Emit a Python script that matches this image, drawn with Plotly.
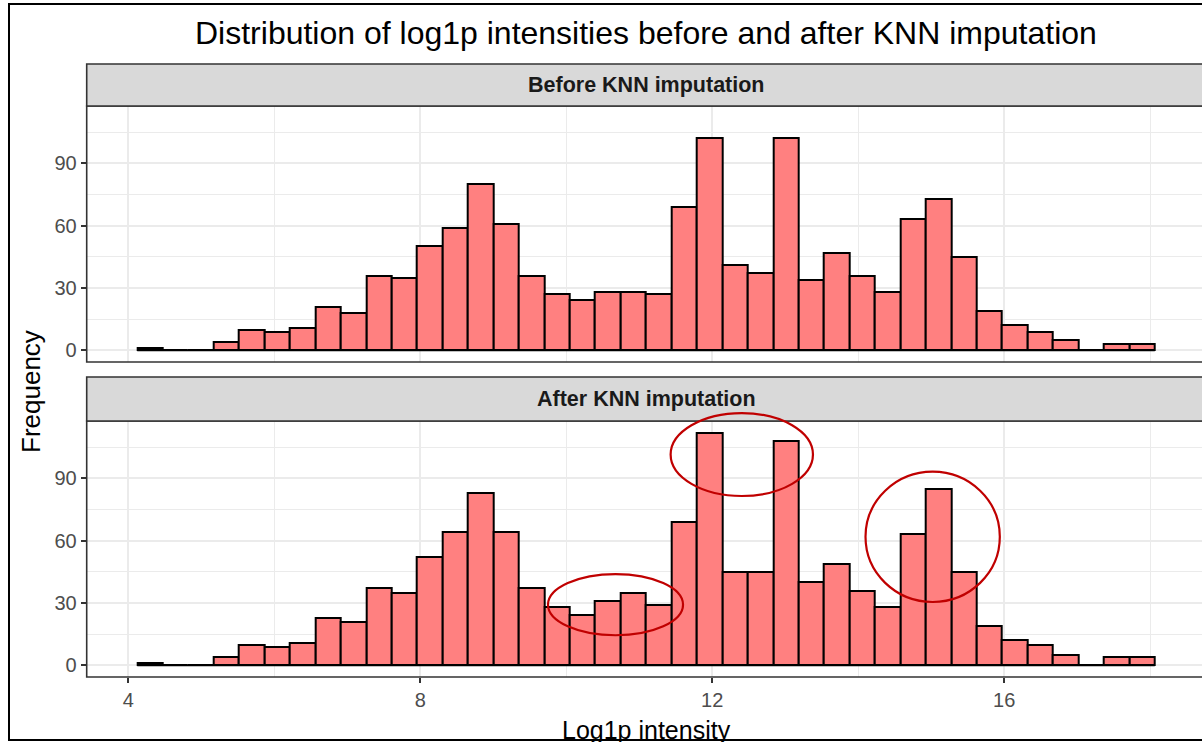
import plotly.graph_objects as go

# ---- data: histogram counts of log1p intensities (40 equal-width bins) ----
intensity_min = 4.123          # left edge of the first bin
bin_width = 0.3485             # width of each bin

counts_before = [1, 0, 0, 4, 10, 9, 11, 21, 18, 36,
                 35, 50, 59, 80, 61, 36, 27, 24, 28, 28,
                 27, 69, 102, 41, 37, 102, 34, 47, 36, 28,
                 63, 73, 45, 19, 12, 9, 5, 0, 3, 3]

counts_after = [1, 0, 0, 4, 10, 9, 11, 23, 21, 37,
                35, 52, 64, 83, 64, 37, 28, 24, 31, 35,
                29, 69, 112, 45, 45, 108, 40, 49, 36, 28,
                63, 85, 45, 19, 12, 10, 5, 0, 4, 4]

panel_labels = ["Before KNN imputation", "After KNN imputation"]
x_tick_values = [4, 8, 12, 16]
y_tick_values = [0, 30, 60, 90]

# highlighted regions in the imputed panel: (x0, x1, y0, y1) in data units
highlights = [
    (9.75, 11.60, 14.5, 43.9),
    (11.43, 13.38, 81.5, 121.4),
    (14.10, 15.94, 30.5, 93.2),
]

# ---- layout geometry (pixels) ----
W, H = 1202, 742
FONT = "Liberation Sans, Arial, sans-serif"
PANEL_LEFT = 86.7
panels_px = [(106, 362), (421, 677)]      # (top, bottom) of each panel
strips_px = [(64, 106), (377, 421)]       # (top, bottom) of each strip

X_RANGE = [3.43, 18.71]
Y_RANGE = [-5.6, 117.6]


def px_x(x):
    return x / W


def px_y(y):
    return 1 - y / H


def dom_x(v):
    return (v - X_RANGE[0]) / (X_RANGE[1] - X_RANGE[0])


def dom_y(v):
    return (v - Y_RANGE[0]) / (Y_RANGE[1] - Y_RANGE[0])


n_bins = len(counts_before)
centers = [intensity_min + (i + 0.5) * bin_width for i in range(n_bins)]
x_lo = intensity_min
x_hi = intensity_min + n_bins * bin_width

fig = go.Figure()

for k, counts in enumerate([counts_before, counts_after]):
    xa = "x" if k == 0 else "x2"
    ya = "y" if k == 0 else "y2"
    # outline of empty bins along the baseline
    fig.add_trace(go.Scatter(
        x=[x_lo, x_hi], y=[0, 0], mode="lines",
        line=dict(color="black", width=1.6),
        xaxis=xa, yaxis=ya, showlegend=False, hoverinfo="skip",
    ))
    fig.add_trace(go.Bar(
        x=centers, y=counts, width=bin_width,
        marker=dict(color="#FF8080", line=dict(color="black", width=2)),
        xaxis=xa, yaxis=ya, showlegend=False,
    ))

grid_major = "#EBEBEB"
axis_common = dict(
    showline=False, zeroline=False,
    gridcolor=grid_major, gridwidth=1.5,
    tickfont=dict(family=FONT, size=20, color="#4D4D4D"),
    tickcolor="#333333", tickwidth=1.5, ticklen=5,
)

x_domain = [px_x(PANEL_LEFT), 1.0]
for k in range(2):
    top, bot = panels_px[k]
    xname = "xaxis" if k == 0 else "xaxis2"
    yname = "yaxis" if k == 0 else "yaxis2"
    fig.layout[xname] = dict(
        axis_common,
        domain=x_domain, range=X_RANGE, anchor="y" if k == 0 else "y2",
        tickvals=x_tick_values,
        ticks="outside" if k == 1 else "",
        showticklabels=(k == 1),
        minor=dict(dtick=2, tick0=0, showgrid=True, gridcolor=grid_major, gridwidth=0.8, ticks=""),
    )
    if k == 1:
        fig.layout[xname].matches = "x"
    fig.layout[yname] = dict(
        axis_common,
        domain=[px_y(bot), px_y(top)], range=Y_RANGE,
        anchor="x" if k == 0 else "x2",
        tickvals=y_tick_values, ticks="outside",
        minor=dict(dtick=15, tick0=0, showgrid=True, gridcolor=grid_major, gridwidth=0.8, ticks=""),
    )

shapes = []
# outer frame
shapes.append(dict(type="rect", xref="paper", yref="paper",
                   x0=px_x(9), x1=px_x(1230), y0=px_y(740), y1=px_y(4),
                   line=dict(color="black", width=2), layer="above"))
for k in range(2):
    xd = "x domain" if k == 0 else "x2 domain"
    yd = "y domain" if k == 0 else "y2 domain"
    # panel border
    shapes.append(dict(type="rect", xref=xd, yref=yd, x0=0, x1=1.05, y0=0, y1=1,
                       line=dict(color="#333333", width=1.6), layer="above"))
    # strip
    s_top, s_bot = strips_px[k]
    shapes.append(dict(type="rect", xref="paper", yref="paper",
                       x0=px_x(PANEL_LEFT), x1=px_x(1230), y0=px_y(s_bot), y1=px_y(s_top),
                       fillcolor="#D9D9D9", line=dict(color="#333333", width=1.6), layer="above"))
for (a, b, c, d) in highlights:
    shapes.append(dict(type="circle", xref="x2 domain", yref="y2 domain",
                       x0=dom_x(a), x1=dom_x(b), y0=dom_y(c), y1=dom_y(d),
                       line=dict(color="#C00000", width=2.2), layer="above"))

annotations = []
strip_center = px_x((PANEL_LEFT + 1205.8) / 2)
for k in range(2):
    s_top, s_bot = strips_px[k]
    annotations.append(dict(
        text="<b>%s</b>" % panel_labels[k], xref="paper", yref="paper",
        x=strip_center, y=px_y((s_top + s_bot) / 2), xanchor="center", yanchor="middle",
        showarrow=False, font=dict(family=FONT, size=21.5, color="#1A1A1A"),
    ))
annotations.append(dict(
    text="Distribution of log1p intensities before and after KNN imputation",
    xref="paper", yref="paper", x=strip_center, y=px_y(33),
    xanchor="center", yanchor="middle", showarrow=False,
    font=dict(family=FONT, size=32, color="black"),
))
annotations.append(dict(
    text="Frequency", xref="paper", yref="paper", x=px_x(31), y=px_y(392),
    xanchor="center", yanchor="middle", textangle=-90, showarrow=False,
    font=dict(family=FONT, size=26, color="black"),
))
annotations.append(dict(
    text="Log1p intensity", xref="paper", yref="paper", x=strip_center, y=px_y(730),
    xanchor="center", yanchor="middle", showarrow=False,
    font=dict(family=FONT, size=25, color="black"),
))

fig.update_layout(
    width=W, height=H,
    margin=dict(l=0, r=0, t=0, b=0, pad=0),
    paper_bgcolor="white", plot_bgcolor="white",
    bargap=0, barmode="overlay",
    shapes=shapes, annotations=annotations,
    font=dict(family=FONT),
)

fig.write_html("out.html")
